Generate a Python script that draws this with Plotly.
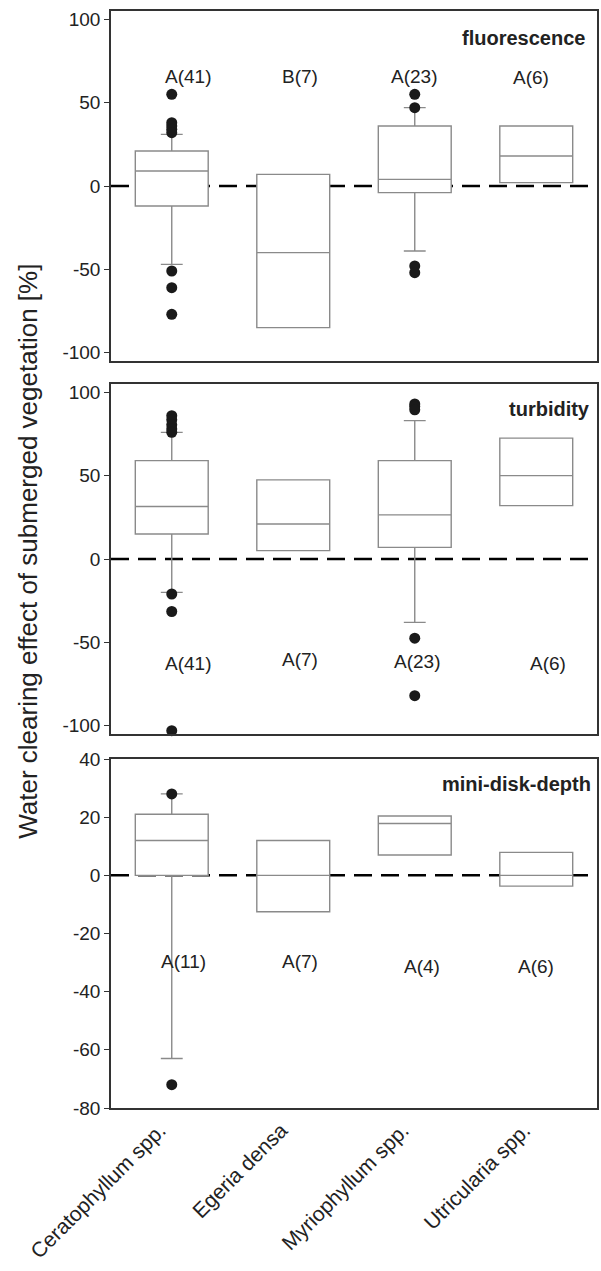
import plotly.graph_objects as go
from plotly.subplots import make_subplots

categories = ["Ceratophyllum spp.", "Egeria densa", "Myriophyllum spp.", "Utricularia spp."]

# fluorescence
fl_q1 = [-12, -85, -4, 2]
fl_med = [9, -40, 4, 18]
fl_q3 = [21, 7, 36, 36]
fl_lo = [-47, -85, -39, 2]
fl_hi = [31, 7, 47, 36]
fl_out_cat = [0, 0, 0, 0, 0, 0, 0, 0, 2, 2, 2, 2]
fl_out_val = [55, 38, 36, 34, 32, -51, -61, -77, 55, 47, -48, -52]
fl_labels = ["A(41)", "B(7)", "A(23)", "A(6)"]
fl_label_y = [66, 66, 66, 65]

# turbidity
tu_q1 = [15, 5, 7, 32]
tu_med = [31.5, 21, 26.5, 50]
tu_q3 = [59, 47.5, 59, 72.5]
tu_lo = [-20, 5, -38, 32]
tu_hi = [76, 47.5, 83, 72.5]
tu_out_cat = [0, 0, 0, 0, 0, 0, 0, 0, 2, 2, 2, 2, 2]
tu_out_val = [86, 83.5, 80.5, 78, 76, -21, -31.5, -103, 93, 91.5, 89.5, -47.5, -82]
tu_labels = ["A(41)", "A(7)", "A(23)", "A(6)"]
tu_label_y = [-62.5, -60, -61.5, -62.5]

# mini-disk-depth
md_q1 = [0, -12.5, 7, -3.7]
md_med = [12, 0, 17.8, 0]
md_q3 = [21, 12, 20.4, 7.9]
md_lo = [-63, -12.5, 7, -3.7]
md_hi = [28, 12, 20.4, 7.9]
md_out_cat = [0, 0]
md_out_val = [28, -72]
md_labels = ["A(11)", "A(7)", "A(4)", "A(6)"]
md_label_y = [-29.6, -29.6, -31.4, -31.4]

panel_names = ["fluorescence", "turbidity", "mini-disk-depth"]
y_title = "Water clearing effect of submerged vegetation [%]"
ticks_pct = [-100, -50, 0, 50, 100]
ticks_md = [-80, -60, -40, -20, 0, 20, 40]

FONT = "Liberation Sans, Arial, sans-serif"
BOXC = "#8a8a8a"
FRAME = "#333333"

fig = make_subplots(rows=3, cols=1, shared_xaxes=True)

panels = [
    (fl_q1, fl_med, fl_q3, fl_lo, fl_hi, fl_out_cat, fl_out_val, fl_labels, fl_label_y,
     [0.13, 0.055, -0.01, -0.045], -10, 89),
    (tu_q1, tu_med, tu_q3, tu_lo, tu_hi, tu_out_cat, tu_out_val, tu_labels, tu_label_y,
     [0.13, 0.055, 0.02, 0.095], -5, 90),
    (md_q1, md_med, md_q3, md_lo, md_hi, md_out_cat, md_out_val, md_labels, md_label_y,
     [0.10, 0.055, 0.06, 0.0], -4, 31.4),
]

for r, (q1, med, q3, lo, hi, oc, ov, labs, laby, offs, pshift, py) in enumerate(panels, start=1):
    fig.add_trace(go.Box(
        x=categories, q1=q1, median=med, q3=q3, lowerfence=lo, upperfence=hi,
        boxpoints=False, fillcolor="white", line=dict(color=BOXC, width=1.4),
        whiskerwidth=0.3, width=0.6, showlegend=False, hoverinfo="skip",
    ), row=r, col=1)
    fig.add_trace(go.Scatter(
        x=[categories[c] for c in oc], y=ov, mode="markers",
        marker=dict(color="#1a1a1a", size=11), cliponaxis=False,
        showlegend=False, hoverinfo="skip",
    ), row=r, col=1)
    fig.add_hline(y=0, row=r, col=1, layer="below",
                  line=dict(color="black", width=2.5, dash="18px,9px"))
    suffix = "" if r == 1 else str(r)
    for i, (t, yy) in enumerate(zip(labs, laby)):
        fig.add_annotation(x=i + offs[i], y=yy, xref="x" + suffix, yref="y" + suffix,
                           text=t, showarrow=False,
                           font=dict(family=FONT, size=19, color="#222222"))
    fig.add_annotation(x=1, y=py, xref="x" + suffix + " domain", yref="y" + suffix,
                       text="<b>" + panel_names[r - 1] + "</b>", showarrow=False,
                       xanchor="right", xshift=pshift,
                       font=dict(family=FONT, size=20, color="#222222"))

W, H = 601, 1271
mt, mb = 11, 163
ph = H - mt - mb
def dom(top_px, bot_px):
    return [(H - mb - bot_px) / ph, (H - mb - top_px) / ph]

domains = [dom(11, 361), dom(384, 734), dom(759, 1108)]
ranges = [[-105, 105], [-105, 105], [-80, 40]]
tickvals = [ticks_pct, ticks_pct, ticks_md]

for r in range(1, 4):
    suffix = "" if r == 1 else str(r)
    tv = tickvals[r - 1]
    fig.layout["yaxis" + suffix].update(
        domain=domains[r - 1], range=ranges[r - 1], tickvals=tv,
        ticktext=[str(v) for v in tv], automargin=False,
        showline=True, mirror=True, linecolor=FRAME, linewidth=1.5,
        ticks="outside", ticklen=5, tickcolor=FRAME, tickwidth=1.2,
        showgrid=False, zeroline=False,
        tickfont=dict(family=FONT, size=19, color="#222222"),
    )
    fig.layout["xaxis" + suffix].update(
        range=[-0.5, 3.5], showline=True, mirror=True, linecolor=FRAME, linewidth=1.5,
        ticks="", showgrid=False, zeroline=False, automargin=False,
        showticklabels=(r == 3), tickangle=-45, ticklabelshift=-12,
        tickfont=dict(family=FONT, size=21, color="#222222"),
    )

fig.add_annotation(x=0, y=0.507, xref="paper", yref="paper", text=y_title,
                   textangle=-90, showarrow=False, xanchor="center", yanchor="middle",
                   xshift=-83, font=dict(family=FONT, size=26, color="#222222"))

fig.update_layout(
    width=W, height=H, margin=dict(l=111, r=4, t=mt, b=mb, autoexpand=False),
    paper_bgcolor="white", plot_bgcolor="white", boxmode="overlay",
    font=dict(family=FONT),
)

fig.write_html("out.html")
